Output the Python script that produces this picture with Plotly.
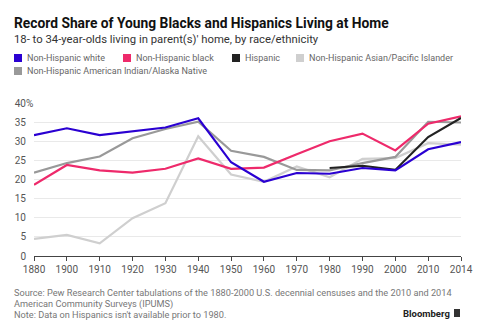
import plotly.graph_objects as go

# Census years (evenly spaced as categories)
years = ["1880", "1900", "1910", "1920", "1930", "1940", "1950", "1960",
         "1970", "1980", "1990", "2000", "2010", "2014"]

# Share of 18- to 34-year-olds living in parent(s)' home, %
white = [31.6, 33.4, 31.6, 32.6, 33.6, 36.0, 24.5, 19.4, 21.7, 21.5, 23.0, 22.4, 27.9, 29.8]
black = [18.6, 23.8, 22.4, 21.8, 22.8, 25.5, 22.8, 23.1, 26.6, 30.0, 32.0, 27.6, 34.6, 36.5]
hispanic_years = ["1980", "1990", "2000", "2010", "2014"]
hispanic = [23.0, 23.6, 22.5, 31.1, 36.1]
asian = [4.5, 5.5, 3.3, 9.9, 13.8, 31.3, 21.3, 19.4, 23.4, 20.6, 25.4, 25.6, 29.5, 29.1]
native = [21.8, 24.3, 26.0, 30.8, 33.2, 35.1, 27.5, 25.9, 22.5, 22.4, 24.3, 25.9, 35.1, 34.9]

y_ticks = [0, 5, 10, 15, 20, 25, 30, 35, 40]

FONT = "Roboto"
C_WHITE = "#2a00d2"
C_BLACK = "#ee2a6b"
C_HISP = "#222222"
C_ASIAN = "#cfcfcf"
C_NATIVE = "#999999"

series = [
    ("Non-Hispanic Asian/Pacific Islander", years, asian, C_ASIAN),
    ("Non-Hispanic American Indian/Alaska Native", years, native, C_NATIVE),
    ("Non-Hispanic black", years, black, C_BLACK),
    ("Hispanic", hispanic_years, hispanic, C_HISP),
    ("Non-Hispanic white", years, white, C_WHITE),
]

fig = go.Figure()
for name, xs, ys, col in series:
    fig.add_trace(go.Scatter(x=xs, y=ys, mode="lines", name=name,
                             line=dict(color=col, width=2.2), showlegend=False))

W, H = 488, 334
ML, MR, MT, MB = 34, 27, 103, 78
PW, PH = W - ML - MR, H - MT - MB

fig.update_layout(
    width=W, height=H,
    margin=dict(l=ML, r=MR, t=MT, b=MB, pad=0),
    paper_bgcolor="white", plot_bgcolor="white",
    font=dict(family=FONT, color="#555555", size=10),
    xaxis=dict(type="category", categoryorder="array", categoryarray=years,
               range=[0, len(years) - 1], showgrid=False, zeroline=False,
               showline=True, linecolor="#444444", linewidth=1,
               ticks="outside", ticklen=4, tickcolor="#444444",
               tickfont=dict(size=10, color="#555555")),
    yaxis=dict(range=[0, 40], tickvals=y_ticks,
               ticktext=[str(v) for v in y_ticks],
               showgrid=True, gridcolor="#e9e9e9", gridwidth=1,
               zeroline=False, showline=False, ticks="",
               ticklabelstandoff=7,
               tickfont=dict(size=10, color="#555555")),
)


# convert page pixels to paper (plot-area) fractions
def px_x(x):
    return (x - ML) / PW


def px_y(y):
    return (H - MB - y) / PH


ann = []


def label(text, x, y, size, color, xanchor="left", family=FONT):
    ann.append(dict(text=text, xref="paper", yref="paper", x=px_x(x), y=px_y(y),
                    xanchor=xanchor, yanchor="middle", showarrow=False, borderpad=0,
                    font=dict(size=size, color=color, family=family)))


# percent sign on the top tick label
label("%", 24.5, 103.5, 10, "#555555")

# Title and subtitle
label("<b>Record Share of Young Blacks and Hispanics Living at Home</b>", 13, 23, 13.8, "#111111")
label("18- to 34-year-olds living in parent(s)' home, by race/ethnicity", 13, 40, 11.3, "#333333")

# Legend: colour squares with labels
legend_items = [
    ("Non-Hispanic white", C_WHITE, 14, 58),
    ("Non-Hispanic black", C_BLACK, 123, 58),
    ("Hispanic", C_HISP, 232, 58),
    ("Non-Hispanic Asian/Pacific Islander", C_ASIAN, 296, 58),
    ("Non-Hispanic American Indian/Alaska Native", C_NATIVE, 14, 71),
]
shapes = []
for text, col, lx, ly in legend_items:
    shapes.append(dict(type="rect", xref="paper", yref="paper",
                       x0=px_x(lx), x1=px_x(lx + 8), y0=px_y(ly + 4), y1=px_y(ly - 4),
                       fillcolor=col, line=dict(width=0)))
    label(text, lx + 12, ly, 9, "#666666")

# Source and note
src_size = 9.2
label("Source: Pew Research Center tabulations of the 1880-2000 U.S. decennial censuses and the 2010 and 2014",
      13, 292.5, src_size, "#777777")
label("American Community Surveys (IPUMS)", 13, 303.5, src_size, "#777777")
label("Note: Data on Hispanics isn't available prior to 1980.", 13, 314.5, src_size, "#777777")

# Brand mark
label("<b>Bloomberg</b>", 451, 313, 9.5, "#222222", xanchor="right")
shapes.append(dict(type="rect", xref="paper", yref="paper",
                   x0=px_x(454), x1=px_x(460), y0=px_y(317), y1=px_y(309),
                   fillcolor="#333333", line=dict(width=0)))

fig.update_layout(annotations=ann, shapes=shapes)
fig.write_html("out.html")
